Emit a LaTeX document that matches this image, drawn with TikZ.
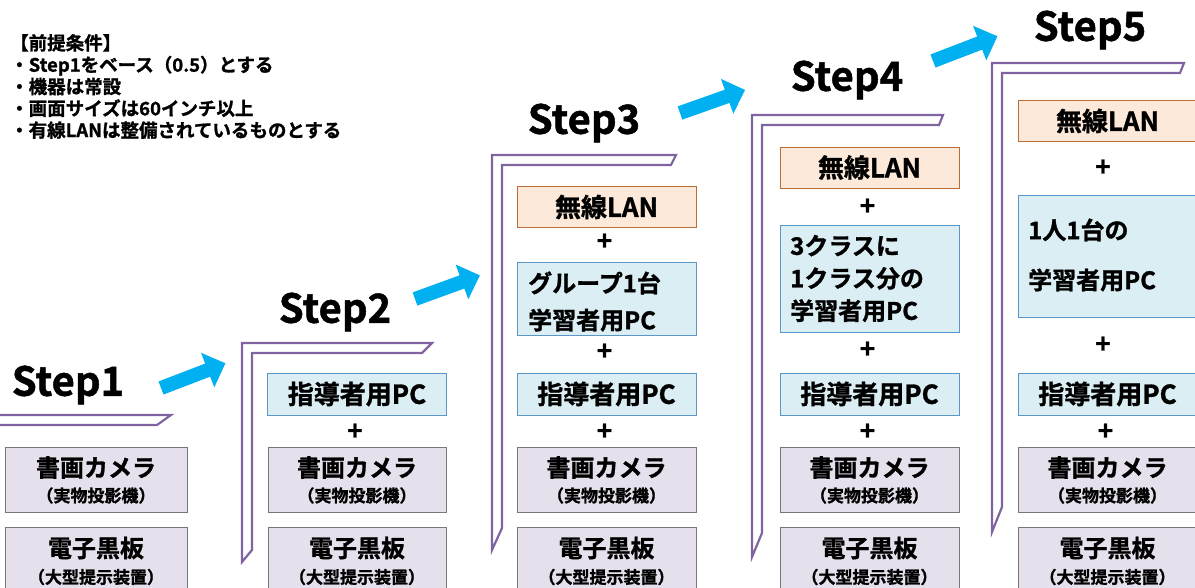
\documentclass[tikz,border=0pt]{standalone}
\usepackage{fontspec}
\setmainfont{Noto Sans CJK JP}[BoldFont={Noto Sans CJK JP Bold},BoldFeatures={FakeBold=1.2}]
\definecolor{stepPurple}{RGB}{128,100,162}
\definecolor{arrowBlue}{RGB}{0,176,240}
\definecolor{lavFill}{RGB}{230,224,236}
\definecolor{lavBorder}{RGB}{120,120,120}
\definecolor{bluFill}{RGB}{218,238,243}
\definecolor{bluBorder}{RGB}{90,150,200}
\definecolor{pchFill}{RGB}{253,233,217}
\definecolor{pchBorder}{RGB}{185,110,55}
\newcommand\stepframe[6]{%
  \draw[frame] (#1,#2) -- (#3,#2) -- (#4,#2+10) -- (#1+10,#2+10) -- (#1+10,#5) -- (#1,#6) -- cycle;}
\newcommand\bluearrow[3]{%
  \fill[arrowBlue,shift={(#1,#2)},rotate=#3] (0,-7) -- (50,-7) -- (50,-18.5) -- (69,0) -- (50,18.5) -- (50,7) -- (0,7) -- cycle;}
\begin{document}
\begin{tikzpicture}[x=1pt,y=-1pt,
  frame/.style={draw=stepPurple,line width=2.2pt,line join=miter},
  boxbase/.style={inner sep=0pt,line width=0.9pt},
  lav/.style={boxbase,draw=lavBorder,fill=lavFill,minimum height=65pt},
  blu/.style={boxbase,draw=bluBorder,fill=bluFill},
  pch/.style={boxbase,draw=pchBorder,fill=pchFill,minimum height=41pt},
  maintxt/.style={inner sep=0pt,font=\fontsize{24}{28}\selectfont\bfseries},
  labtxt/.style={inner sep=0pt,font=\fontsize{26}{28}\selectfont\bfseries},
  subtxt/.style={inner sep=0pt,font=\fontsize{17}{18}\selectfont\bfseries},
  bigtxt/.style={inner sep=0pt,font=\fontsize{24}{28}\selectfont\bfseries},
  plus/.style={inner sep=0pt,font=\fontsize{26}{28}\selectfont\bfseries},
  steptxt/.style={inner sep=0pt,font=\fontsize{40}{42}\selectfont\bfseries},
  premtxt/.style={inner sep=0pt,align=left,font=\fontsize{18.5}{21.8}\selectfont\bfseries}
]
\useasboundingbox (0,0) rectangle (1195,588);
\clip (0,0) rectangle (1195,588);

% premise text
\node[premtxt,anchor=west] (premise) at (10,86.5) {【前提条件】\\・Step1をベース（0.5）とする\\・機器は常設\\・画面サイズは60インチ以上\\・有線LANは整備されているものとする};

% step frames
\stepframe{-20}{415}{171}{157}{700}{710}
\stepframe{242}{343}{432}{422}{550}{562}
\stepframe{492}{155}{676}{671}{528}{550}
\stepframe{752}{115}{943}{939}{533}{557}
\stepframe{992}{63}{1184}{1180}{507}{532}

% step titles
\node[steptxt] (s1) at (68,385) {Step1};
\node[steptxt] (s2) at (335,312) {Step2};
\node[steptxt] (s3) at (584,123) {Step3};
\node[steptxt] (s4) at (847,80) {Step4};
\node[steptxt] (s5) at (1090,30) {Step5};

% arrows
\bluearrow{161}{388}{21}
\bluearrow{415}{299}{20}
\bluearrow{680}{113}{19.5}
\bluearrow{933}{61}{21}

% common boxes
\foreach \n/\cx/\w in {1/96/182,2/357/178,3/606.5/179,4/869.5/179,5/1107.5/179} {
  \node[lav,minimum width=\w pt] (sho\n) at (\cx,479.5) {};
  \node[maintxt] (shoA\n) at ([yshift=12pt]sho\n.center) {書画カメラ};
  \node[subtxt] (shoB\n) at ([yshift=-16pt]sho\n.center) {（実物投影機）};
  \node[lav,minimum width=\w pt] (den\n) at (\cx,559.5) {};
  \node[maintxt] (denA\n) at ([yshift=11.5pt]den\n.center) {電子黒板};
  \node[subtxt] (denB\n) at ([yshift=-17.5pt]den\n.center) {（大型提示装置）};
}
\foreach \n/\cx in {2/357,3/606.5,4/869.5,5/1107.5} {
  \node[blu,minimum width=179pt,minimum height=42pt] (pc\n) at (\cx,394) {};
  \node[labtxt] (pcT\n) at (pc\n.center) {指導者用PC};
  \node[plus] (plA\n) at (\cx-2,432) {+};
}

% Step3 extras
\node[pch,minimum width=179pt] (lan3) at (606.5,207) {};
\node[labtxt] (lanT3) at (lan3.center) {無線LAN};
\node[plus] (plB3) at (604.5,242) {+};
\node[blu,minimum width=179pt,minimum height=73pt] (grp3) at (606.5,298.5) {};
\node[bigtxt,anchor=west,align=left] (grpT3) at (528,301.5) {グループ1台\\[9pt]学習者用PC};
\node[plus] (plC3) at (604.5,352) {+};

% Step4 extras
\node[pch,minimum width=179pt] (lan4) at (869.5,167.5) {};
\node[labtxt] (lanT4) at (lan4.center) {無線LAN};
\node[plus] (plB4) at (867.5,207) {+};
\node[blu,minimum width=179pt,minimum height=107pt] (grp4) at (869.5,278.5) {};
\node[bigtxt,anchor=west,align=left] (grpT4) at (790,278.5) {3クラスに\\[4.5pt]1クラス分の\\[4.5pt]学習者用PC};
\node[plus] (plC4) at (867.5,350) {+};

% Step5 extras
\node[pch,minimum width=179pt] (lan5) at (1107.5,121) {};
\node[labtxt] (lanT5) at (lan5.center) {無線LAN};
\node[plus] (plB5) at (1103,168) {+};
\node[blu,minimum width=179pt,minimum height=122pt] (grp5) at (1107.5,256) {};
\node[bigtxt,anchor=west,align=left] (grpT5) at (1028,255) {1人1台の\\[22pt]学習者用PC};
\node[plus] (plC5) at (1103,345) {+};
\end{tikzpicture}
\end{document}
